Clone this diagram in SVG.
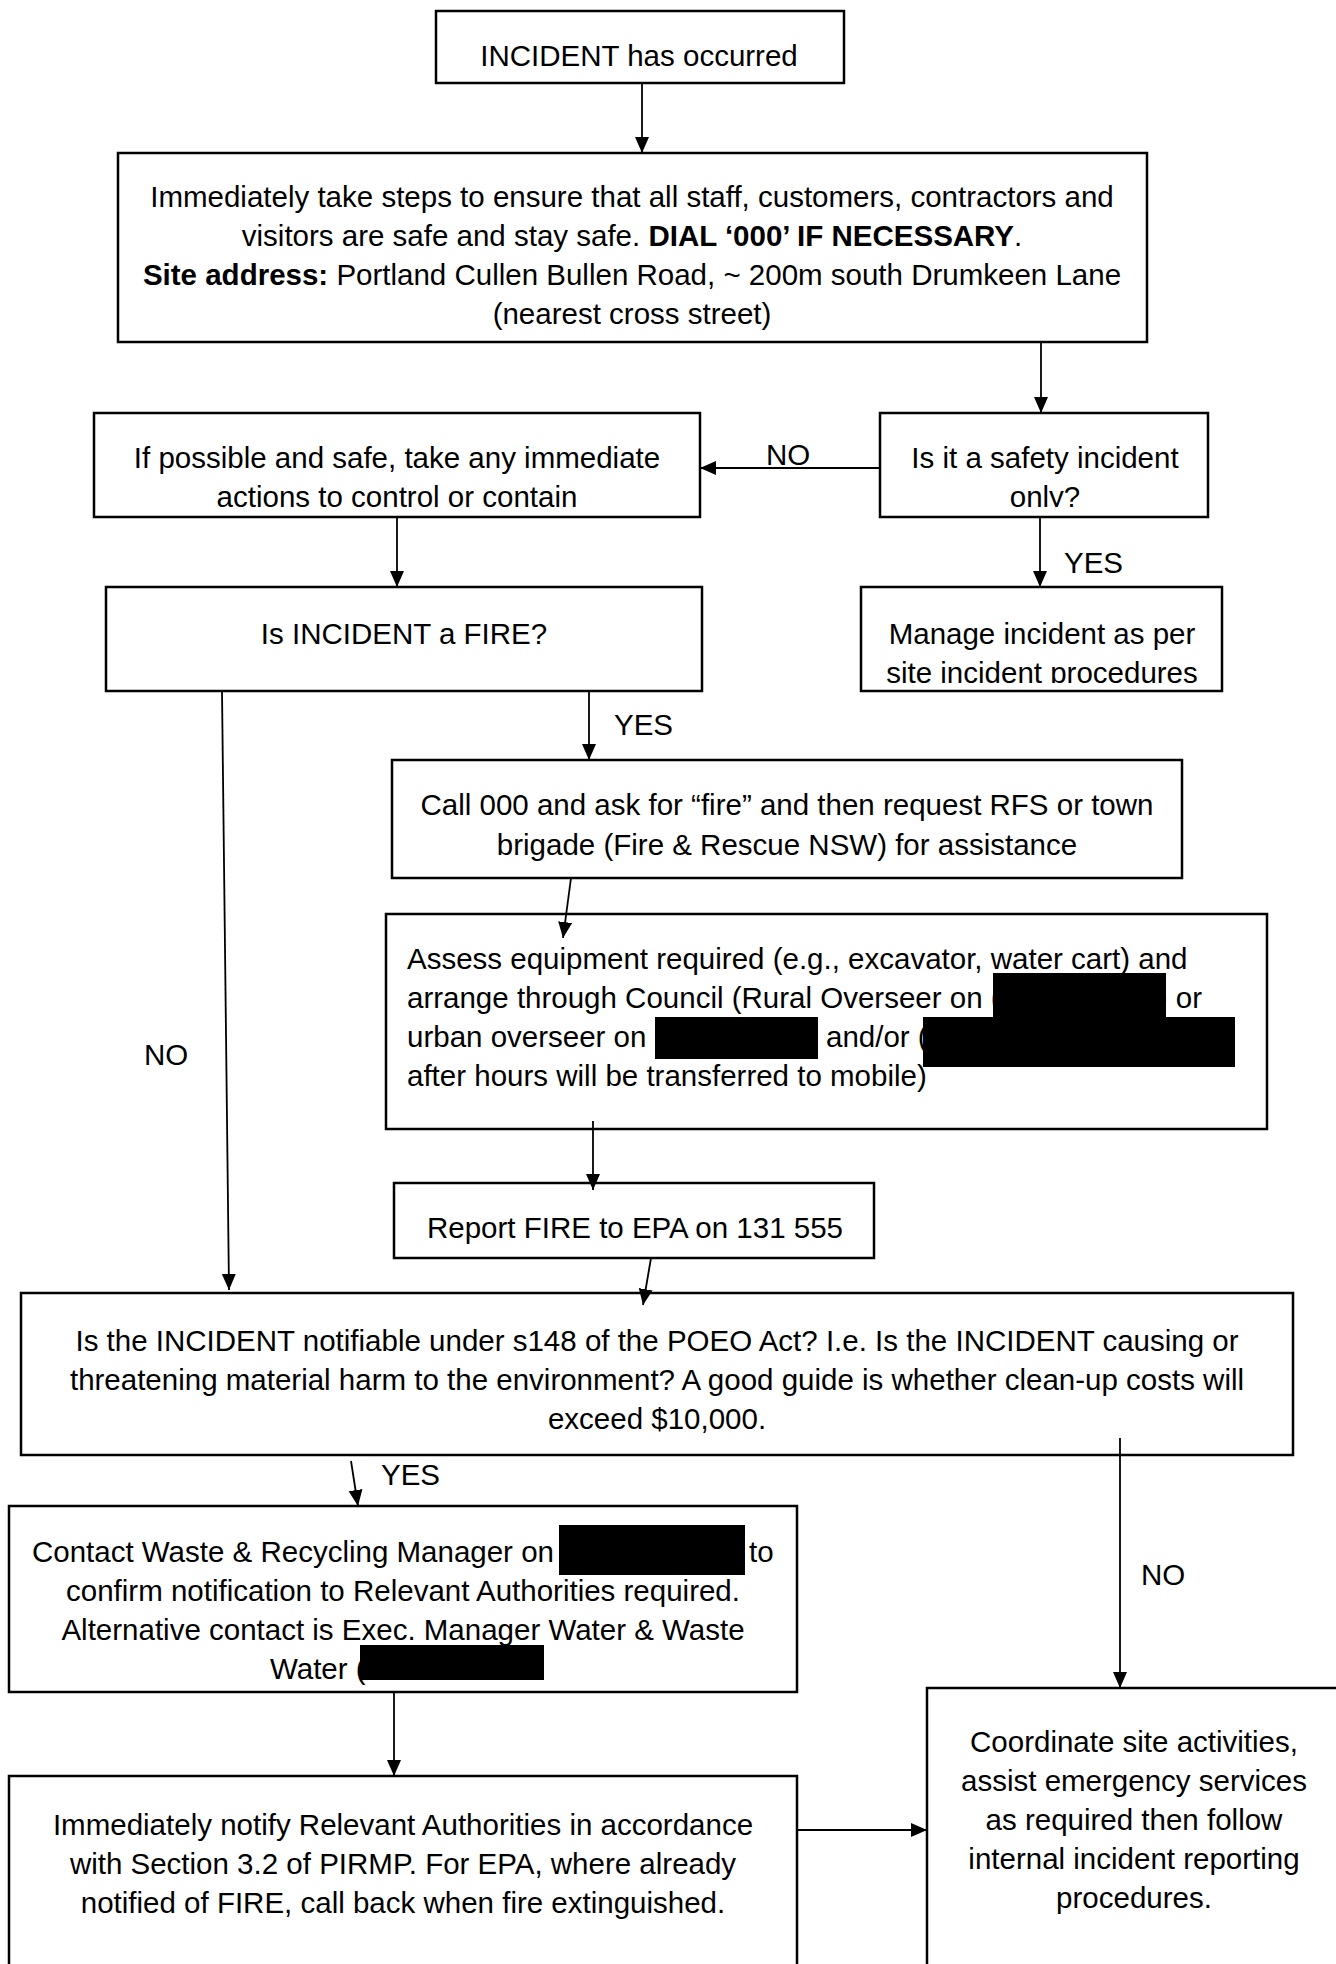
<svg xmlns="http://www.w3.org/2000/svg" width="1336" height="1964" viewBox="0 0 1336 1964">
<style>
  .box { fill: #fff; stroke: #000; stroke-width: 2.5; }
  .t { font-family: "Liberation Sans", Arial, sans-serif; font-size: 29.5px; fill: #000; }
  .c { text-anchor: middle; }
  .b { font-weight: bold; }
  .conn { stroke: #000; stroke-width: 1.8; fill: none; marker-end: url(#arr); }
  .red { fill: #000; }
</style>
<defs>
  <marker id="arr" markerWidth="17" markerHeight="16" refX="16" refY="7" orient="auto" markerUnits="userSpaceOnUse">
    <path d="M0,0 L16,7 L0,14 Z" fill="#000"/>
  </marker>
  <clipPath id="clipA"><rect x="94" y="413" width="606" height="94"/></clipPath>
  <clipPath id="clipB"><rect x="880" y="413" width="328" height="94"/></clipPath>
  <clipPath id="clipC"><rect x="861" y="587" width="361" height="96"/></clipPath>
</defs>
<rect width="1336" height="1964" fill="#fff"/>

<g id="n-incident">
  <rect class="box" x="436" y="11" width="408" height="72"/>
  <text class="t c" x="639" y="66">INCIDENT has occurred</text>
</g>

<g id="n-immediate">
  <rect class="box" x="118" y="153" width="1029" height="189"/>
  <text class="t c" x="632" y="207">Immediately take steps to ensure that all staff, customers, contractors and</text>
  <text class="t c" x="632" y="246">visitors are safe and stay safe. <tspan class="b">DIAL ‘000’ IF NECESSARY</tspan>.</text>
  <text class="t c" x="632" y="285"><tspan class="b">Site address:</tspan> Portland Cullen Bullen Road, ~ 200m south Drumkeen Lane</text>
  <text class="t c" x="632" y="324">(nearest cross street)</text>
</g>

<g id="n-control">
  <rect class="box" x="94" y="413" width="606" height="104"/>
  <g clip-path="url(#clipA)">
    <text class="t c" x="397" y="468">If possible and safe, take any immediate</text>
    <text class="t c" x="397" y="507">actions to control or contain</text>
  </g>
</g>

<g id="n-safety">
  <rect class="box" x="880" y="413" width="328" height="104"/>
  <g clip-path="url(#clipB)">
    <text class="t c" x="1045" y="468">Is it a safety incident</text>
    <text class="t c" x="1045" y="507">only?</text>
  </g>
</g>

<g id="n-fire">
  <rect class="box" x="106" y="587" width="596" height="104"/>
  <text class="t c" x="404" y="644">Is INCIDENT a FIRE?</text>
</g>

<g id="n-manage">
  <rect class="box" x="861" y="587" width="361" height="104"/>
  <g clip-path="url(#clipC)">
    <text class="t c" x="1042" y="644">Manage incident as per</text>
    <text class="t c" x="1042" y="683">site incident procedures</text>
  </g>
</g>

<g id="n-call">
  <rect class="box" x="392" y="760" width="790" height="118"/>
  <text class="t c" x="787" y="815">Call 000 and ask for “fire” and then request RFS or town</text>
  <text class="t c" x="787" y="855">brigade (Fire &amp; Rescue NSW) for assistance</text>
</g>

<g id="n-assess">
  <rect class="box" x="386" y="914" width="881" height="215"/>
  <text class="t" x="407" y="969">Assess equipment required (e.g., excavator, water cart) and</text>
  <text class="t" x="407" y="1008">arrange through Council (Rural Overseer on (</text>
  <text class="t" x="1202" y="1008" text-anchor="end">) or</text>
  <text class="t" x="407" y="1047">urban overseer on (</text>
  <text class="t" x="826" y="1047">and/or (</text>
  <text class="t" x="407" y="1086">after hours will be transferred to mobile)</text>
  <rect class="red" x="993" y="973" width="173" height="44"/>
  <rect class="red" x="655" y="1017" width="163" height="42"/>
  <rect class="red" x="923" y="1017" width="312" height="50"/>
</g>

<g id="n-report">
  <rect class="box" x="394" y="1183" width="480" height="75"/>
  <text class="t c" x="635" y="1238">Report FIRE to EPA on 131 555</text>
</g>

<g id="n-poeo">
  <rect class="box" x="21" y="1293" width="1272" height="162"/>
  <text class="t c" x="657" y="1351">Is the INCIDENT notifiable under s148 of the POEO Act? I.e. Is the INCIDENT causing or</text>
  <text class="t c" x="657" y="1390">threatening material harm to the environment? A good guide is whether clean-up costs will</text>
  <text class="t c" x="657" y="1429">exceed $10,000.</text>
</g>

<g id="n-contact">
  <rect class="box" x="9" y="1506" width="788" height="186"/>
  <text class="t" x="32" y="1562">Contact Waste &amp; Recycling Manager on</text>
  <text class="t" x="749" y="1562">to</text>
  <text class="t c" x="403" y="1601">confirm notification to Relevant Authorities required.</text>
  <text class="t c" x="403" y="1640">Alternative contact is Exec. Manager Water &amp; Waste</text>
  <text class="t" x="270" y="1679">Water (</text>
  <rect class="red" x="559" y="1525" width="186" height="50"/>
  <rect class="red" x="360" y="1645" width="184" height="35"/>
</g>

<g id="n-notify">
  <rect class="box" x="9" y="1776" width="788" height="300"/>
  <text class="t c" x="403" y="1835">Immediately notify Relevant Authorities in accordance</text>
  <text class="t c" x="403" y="1874">with Section 3.2 of PIRMP. For EPA, where already</text>
  <text class="t c" x="403" y="1913">notified of FIRE, call back when fire extinguished.</text>
</g>

<g id="n-coordinate">
  <rect class="box" x="927" y="1688" width="500" height="400"/>
  <text class="t c" x="1134" y="1752">Coordinate site activities,</text>
  <text class="t c" x="1134" y="1791">assist emergency services</text>
  <text class="t c" x="1134" y="1830">as required then follow</text>
  <text class="t c" x="1134" y="1869">internal incident reporting</text>
  <text class="t c" x="1134" y="1908">procedures.</text>
</g>

<g id="connectors">
  <line class="conn" x1="642" y1="83" x2="642" y2="153"/>
  <line class="conn" x1="1041" y1="342" x2="1041" y2="413"/>
  <line class="conn" x1="880" y1="468" x2="700" y2="468"/>
  <line class="conn" x1="397" y1="517" x2="397" y2="587"/>
  <line class="conn" x1="1040" y1="517" x2="1040" y2="587"/>
  <line class="conn" x1="222" y1="691" x2="229" y2="1290"/>
  <line class="conn" x1="589" y1="691" x2="589" y2="760"/>
  <line class="conn" x1="571" y1="878" x2="563" y2="938"/>
  <line class="conn" x1="593" y1="1121" x2="593" y2="1190"/>
  <line class="conn" x1="651" y1="1258" x2="643" y2="1305"/>
  <line class="conn" x1="1120" y1="1438" x2="1120" y2="1688"/>
  <line class="conn" x1="351" y1="1461" x2="358" y2="1506"/>
  <line class="conn" x1="394" y1="1692" x2="394" y2="1776"/>
  <line class="conn" x1="797" y1="1830" x2="927" y2="1830"/>
  <text class="t" x="766" y="465">NO</text>
  <text class="t" x="1064" y="573">YES</text>
  <text class="t" x="614" y="735">YES</text>
  <text class="t" x="144" y="1065">NO</text>
  <text class="t" x="381" y="1485">YES</text>
  <text class="t" x="1141" y="1585">NO</text>
</g>
</svg>
